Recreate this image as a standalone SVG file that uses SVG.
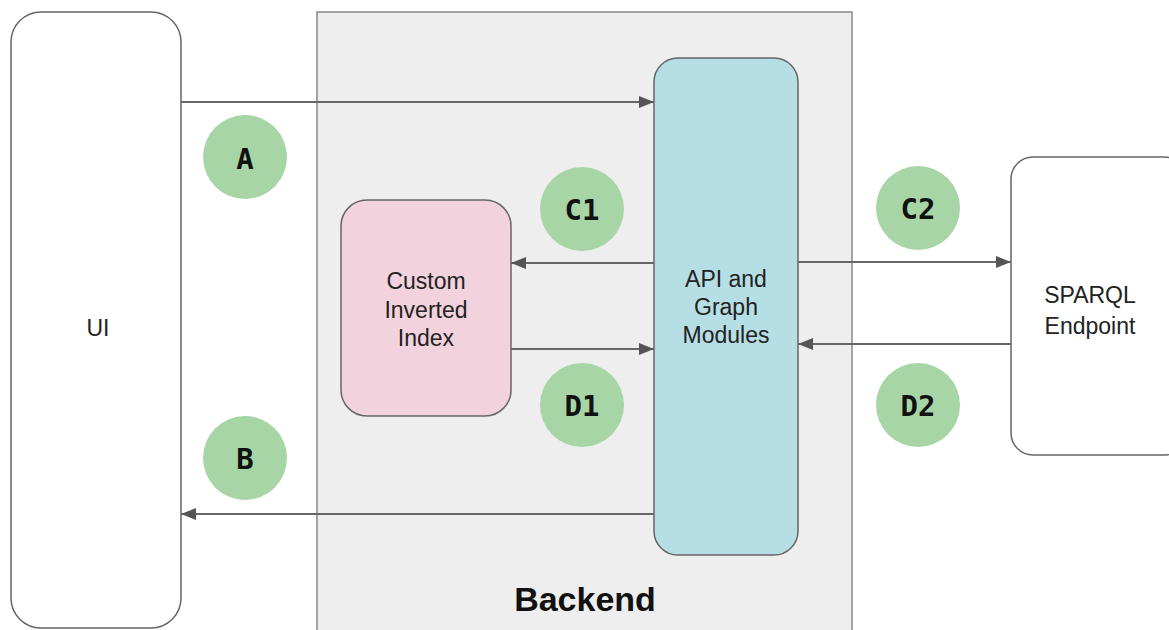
<svg xmlns="http://www.w3.org/2000/svg" width="1169" height="630" viewBox="0 0 1169 630">
<defs>
<marker id="ah" viewBox="0 0 15 12" refX="15" refY="6" markerWidth="15" markerHeight="12" markerUnits="userSpaceOnUse" orient="auto">
<path d="M0,0 L15,6 L0,12 z" fill="#555"/>
</marker>
<style>
.box{stroke:#666;stroke-width:1.5}
.lbl{font-family:"Liberation Sans",Arial,sans-serif;font-size:23px;fill:#222;text-anchor:middle}
.badge{fill:#a8d5a6}
.bt{font-family:"DejaVu Sans Mono","Liberation Mono",monospace;font-weight:bold;font-size:29px;fill:#111;text-anchor:middle}
.conn{stroke:#666;stroke-width:1.8;fill:none;marker-end:url(#ah)}
</style>
</defs>
<rect width="1169" height="630" fill="#ffffff"/>
<g id="backend">
<rect x="317" y="12" width="535" height="640" fill="#eeeeee" stroke="#888" stroke-width="1.5"/>
<text x="585" y="611" font-family="Liberation Sans,Arial,sans-serif" font-weight="bold" font-size="34" fill="#111" text-anchor="middle">Backend</text>
</g>
<g id="ui">
<rect class="box" x="11" y="12" width="170" height="616" rx="30" fill="#fff"/>
<text class="lbl" x="98" y="336">UI</text>
</g>
<g id="index">
<rect class="box" x="341" y="200" width="170" height="216" rx="26" fill="#f2d3dd"/>
<text class="lbl" x="426" y="289">Custom</text>
<text class="lbl" x="426" y="318">Inverted</text>
<text class="lbl" x="426" y="346">Index</text>
</g>
<g id="api">
<rect class="box" x="654" y="58" width="144" height="497" rx="24" fill="#b6dfe5"/>
<text class="lbl" x="726" y="287">API and</text>
<text class="lbl" x="726" y="315">Graph</text>
<text class="lbl" x="726" y="343">Modules</text>
</g>
<g id="sparql">
<rect class="box" x="1011" y="157" width="175" height="298" rx="22" fill="#fff"/>
<text class="lbl" x="1090" y="303">SPARQL</text>
<text class="lbl" x="1090" y="334">Endpoint</text>
</g>
<g id="connectors">
<line class="conn" x1="181" y1="102" x2="654" y2="102"/>
<line class="conn" x1="654" y1="263" x2="511" y2="263"/>
<line class="conn" x1="511" y1="349" x2="654" y2="349"/>
<line class="conn" x1="798" y1="262" x2="1011" y2="262"/>
<line class="conn" x1="1011" y1="344" x2="798" y2="344"/>
<line class="conn" x1="654" y1="514" x2="181" y2="514"/>
</g>
<g id="badge-A"><circle class="badge" cx="245" cy="157" r="42"/><text class="bt" x="245" y="169">A</text></g>
<g id="badge-B"><circle class="badge" cx="245" cy="458" r="42"/><text class="bt" x="245" y="469">B</text></g>
<g id="badge-C1"><circle class="badge" cx="582" cy="209" r="42"/><text class="bt" x="582" y="220">C1</text></g>
<g id="badge-D1"><circle class="badge" cx="582" cy="405" r="42"/><text class="bt" x="582" y="416">D1</text></g>
<g id="badge-C2"><circle class="badge" cx="918" cy="208" r="42"/><text class="bt" x="918" y="219">C2</text></g>
<g id="badge-D2"><circle class="badge" cx="918" cy="405" r="42"/><text class="bt" x="918" y="416">D2</text></g>
</svg>
